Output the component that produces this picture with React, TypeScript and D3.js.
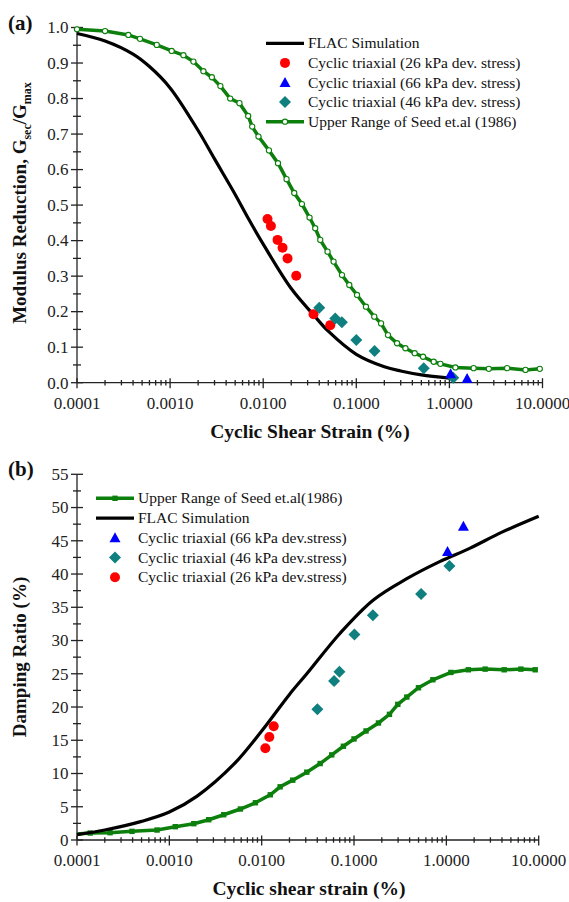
import React from "react";
import * as d3 from "d3";

const W = 569;
const H = 902;
const FONT = "Liberation Serif, Times New Roman, Times, serif";
const GREEN = "#0c7f0c";
const TEAL = "#0f7f7f";
const RED = "#ff0000";
const BLUE = "#0000ff";

// ---------- Panel (a): modulus reduction ----------
const flacAStrain = [1e-4, 2e-4, 4e-4, 6e-4, 1e-3, 2e-3, 3e-3, 5e-3, 7e-3, 0.01, 0.02, 0.035, 0.05, 0.1, 0.2, 0.3, 0.5, 1.0];
const flacAValue = [0.983, 0.962, 0.925, 0.89, 0.83, 0.71, 0.63, 0.53, 0.46, 0.39, 0.265, 0.19, 0.145, 0.08, 0.045, 0.033, 0.022, 0.013];

const seedAStrain = [1e-4, 2e-4, 3.56e-4, 4.75e-4, 7.19e-4, 1.04e-3, 1.39e-3, 1.78e-3, 2.28e-3, 2.81e-3, 3.47e-3, 4.42e-3, 5.56e-3, 6.9e-3, 7.62e-3, 8.9e-3, 0.01153, 0.01442, 0.01782, 0.02155, 0.02606, 0.03147, 0.0362, 0.041, 0.0491, 0.057, 0.0702, 0.0841, 0.1018, 0.127, 0.156, 0.1845, 0.219, 0.274, 0.337, 0.424, 0.521, 0.678, 0.8, 1.16, 1.82, 2.65, 4.17, 6.56, 9.35];
const seedAValue = [0.995, 0.99, 0.979, 0.968, 0.951, 0.934, 0.922, 0.904, 0.877, 0.86, 0.835, 0.8, 0.787, 0.751, 0.721, 0.693, 0.654, 0.618, 0.573, 0.534, 0.503, 0.465, 0.435, 0.402, 0.369, 0.341, 0.303, 0.275, 0.247, 0.214, 0.186, 0.167, 0.134, 0.111, 0.097, 0.083, 0.073, 0.059, 0.053, 0.043, 0.041, 0.039, 0.041, 0.036, 0.039];

const tri26AStrain = [0.01112, 0.0121, 0.01426, 0.01614, 0.01825, 0.02263, 0.0347, 0.0525];
const tri26AValue = [0.461, 0.441, 0.402, 0.38, 0.35, 0.301, 0.193, 0.162];
const tri66AStrain = [1.03, 1.55];
const tri66AValue = [0.025, 0.012];
const tri46AStrain = [0.04, 0.0594, 0.07, 0.1, 0.157, 0.53, 1.1];
const tri46AValue = [0.211, 0.181, 0.17, 0.12, 0.089, 0.041, 0.014];

// ---------- Panel (b): damping ratio ----------
const flacBStrain = [1e-4, 2e-4, 5e-4, 1e-3, 2e-3, 5e-3, 0.01, 0.02, 0.0308, 0.0707, 0.162, 0.373, 0.857, 1.81, 4.0, 10];
const flacBValue = [0.8, 1.5, 2.8, 4.2, 6.6, 11.4, 16.4, 21.9, 25.0, 31.1, 36.1, 39.3, 41.9, 43.9, 46.3, 48.7];

const seedBStrain = [1e-4, 1.39e-4, 2.28e-4, 3.94e-4, 7.36e-4, 1.16e-3, 1.84e-3, 2.67e-3, 3.88e-3, 5.88e-3, 8.55e-3, 0.0124, 0.01585, 0.0217, 0.0308, 0.043, 0.0574, 0.0767, 0.1, 0.135, 0.184, 0.242, 0.298, 0.373, 0.499, 0.714, 1.12, 1.73, 2.63, 4.23, 6.41, 9.17];
const seedBValue = [0.9, 1.05, 1.1, 1.3, 1.5, 2.0, 2.45, 3.05, 3.8, 4.66, 5.6, 6.8, 8.0, 9.0, 10.2, 11.5, 12.8, 14.1, 15.2, 16.4, 17.6, 18.9, 20.4, 21.5, 22.9, 24.1, 25.2, 25.6, 25.7, 25.6, 25.7, 25.6];

const tri66BStrain = [1.03, 1.53];
const tri66BValue = [43.4, 47.2];
const tri46BStrain = [0.0401, 0.0608, 0.0695, 0.101, 0.16, 0.533, 1.08];
const tri46BValue = [19.65, 23.9, 25.3, 30.9, 33.8, 37.0, 41.2];
const tri26BStrain = [0.01096, 0.0121, 0.0135];
const tri26BValue = [13.8, 15.5, 17.1];

// ---------- Axis ticks ----------
const xTickValues = [0.0001, 0.001, 0.01, 0.1, 1, 10];
const xTickLabels = ["0.0001", "0.0010", "0.0100", "0.1000", "1.0000", "10.0000"];
const yTickAValues = [0, 0.1, 0.2, 0.3, 0.4, 0.5, 0.6, 0.7, 0.8, 0.9, 1.0];
const yTickALabels = ["0.0", "0.1", "0.2", "0.3", "0.4", "0.5", "0.6", "0.7", "0.8", "0.9", "1.0"];
const yTickBValues = [0, 5, 10, 15, 20, 25, 30, 35, 40, 45, 50, 55];
const yTickBLabels = ["0", "5", "10", "15", "20", "25", "30", "35", "40", "45", "50", "55"];

const zip = (xs: number[], ys: number[]) => xs.map((x, i) => [x, ys[i]] as [number, number]);

const minorX: number[] = [];
for (let e = -4; e <= 0; e++) for (let k = 2; k <= 9; k++) minorX.push(k * Math.pow(10, e));

const txt = (size: number, bold = false) => ({
  fontFamily: FONT,
  fontSize: size + "px",
  fontWeight: bold ? 700 : 400,
});

function Marker({ kind, x, y }: { kind: string; x: number; y: number }) {
  if (kind === "circle") return <circle cx={x} cy={y} r={5} fill={RED} />;
  if (kind === "tri")
    return <path d={`M${x},${y - 5.5} L${x + 5.5},${y + 4.5} L${x - 5.5},${y + 4.5} Z`} fill={BLUE} />;
  if (kind === "diamond")
    return <path d={`M${x},${y - 6} L${x + 6},${y} L${x},${y + 6} L${x - 6},${y} Z`} fill={TEAL} />;
  if (kind === "opencirc")
    return <circle cx={x} cy={y} r={2.6} fill="#fff" stroke={GREEN} strokeWidth={1.1} />;
  if (kind === "square") return <rect x={x - 2.7} y={y - 2.7} width={5.4} height={5.4} fill={GREEN} />;
  return null;
}

function Axes({ x, y, xTicks, xLabels, yTicks, yLabels, yMinor, xLabelY }: any) {
  const [x0, x1] = x.range();
  const [y0, y1] = y.range();
  return (
    <g stroke="#222" strokeWidth={1.3} fill="none">
      <line x1={x0} y1={y0} x2={x1} y2={y0} />
      <line x1={x0} y1={y0} x2={x0} y2={y1} />
      {xTicks.map((v: number) => (
        <line key={"xM" + v} x1={x(v)} x2={x(v)} y1={y0 - 4.5} y2={y0 + 5.5} />
      ))}
      {minorX.map((v: number) => (
        <line key={"xm" + v} x1={x(v)} x2={x(v)} y1={y0 - 2.7} y2={y0 + 2.7} />
      ))}
      {yTicks.map((v: number) => (
        <line key={"yM" + v} x1={x0 - 6} x2={x0 + 6} y1={y(v)} y2={y(v)} />
      ))}
      {yMinor.map((v: number) => (
        <line key={"ym" + v} x1={x0 - 4} x2={x0 + 4} y1={y(v)} y2={y(v)} />
      ))}
      <g stroke="none" fill="#222">
        {xTicks.map((v: number, i: number) => (
          <text key={"xl" + v} x={x(v)} y={xLabelY} textAnchor="middle" style={txt(17)}>
            {xLabels[i]}
          </text>
        ))}
        {yTicks.map((v: number, i: number) => (
          <text key={"yl" + v} x={x0 - 8.5} y={y(v) + 5.8} textAnchor="end" style={txt(17)}>
            {yLabels[i]}
          </text>
        ))}
      </g>
    </g>
  );
}

export default function App() {
  const xA = d3.scaleLog().domain([1e-4, 10]).range([77, 542.5]);
  const yA = d3.scaleLinear().domain([0, 1]).range([382.7, 27.5]);
  const xB = d3.scaleLog().domain([1e-4, 10]).range([77, 538.7]);
  const yB = d3.scaleLinear().domain([0, 55]).range([840, 474.3]);

  const smoothA = d3
    .line<[number, number]>()
    .x((d) => xA(d[0]))
    .y((d) => yA(d[1]))
    .curve(d3.curveCatmullRom.alpha(0.5));
  const polyA = d3
    .line<[number, number]>()
    .x((d) => xA(d[0]))
    .y((d) => yA(d[1]));
  const smoothB = d3
    .line<[number, number]>()
    .x((d) => xB(d[0]))
    .y((d) => yB(d[1]))
    .curve(d3.curveCatmullRom.alpha(0.5));
  const polyB = d3
    .line<[number, number]>()
    .x((d) => xB(d[0]))
    .y((d) => yB(d[1]));

  const yMinorA = d3.range(0.05, 1, 0.1);
  const yMinorB = d3.range(2.5, 55, 5);

  const legA = [
    { label: "FLAC Simulation", kind: "line" },
    { label: "Cyclic triaxial (26 kPa dev. stress)", kind: "circle" },
    { label: "Cyclic triaxial (66 kPa dev. stress)", kind: "tri" },
    { label: "Cyclic triaxial (46 kPa dev. stress)", kind: "diamond" },
    { label: "Upper Range of Seed et.al (1986)", kind: "seedA" },
  ];
  const legB = [
    { label: "Upper Range of Seed et.al(1986)", kind: "seedB" },
    { label: "FLAC Simulation", kind: "line" },
    { label: "Cyclic triaxial (66 kPa dev.stress)", kind: "tri" },
    { label: "Cyclic triaxial (46 kPa dev.stress)", kind: "diamond" },
    { label: "Cyclic triaxial (26 kPa dev.stress)", kind: "circle" },
  ];

  const legendRows = (items: any[], lx0: number, lx1: number, tx: number, ty0: number, dy: number) =>
    items.map((it, i) => {
      const cy = ty0 + i * dy;
      const cx = (lx0 + lx1) / 2;
      let sym = null;
      if (it.kind === "line") sym = <line x1={lx0} x2={lx1} y1={cy} y2={cy} stroke="#000" strokeWidth={3.2} />;
      else if (it.kind === "seedA")
        sym = (
          <g>
            <line x1={lx0} x2={lx1} y1={cy} y2={cy} stroke={GREEN} strokeWidth={3.5} />
            <Marker kind="opencirc" x={cx} y={cy} />
          </g>
        );
      else if (it.kind === "seedB")
        sym = (
          <g>
            <line x1={lx0} x2={lx1} y1={cy} y2={cy} stroke={GREEN} strokeWidth={3.5} />
            <Marker kind="square" x={cx} y={cy} />
          </g>
        );
      else sym = <Marker kind={it.kind} x={cx} y={cy} />;
      return (
        <g key={it.label}>
          {sym}
          <text x={tx} y={cy + 5} fill="#111" style={txt(15.5)}>
            {it.label}
          </text>
        </g>
      );
    });

  return (
    <svg width={W} height={H} style={{ position: "absolute", left: 0, top: 0, background: "#fff" }}>
      <rect width={W} height={H} fill="#fff" />

      {/* ===== Panel (a) ===== */}
      <Axes
        x={xA}
        y={yA}
        xTicks={xTickValues}
        xLabels={xTickLabels}
        yTicks={yTickAValues}
        yLabels={yTickALabels}
        yMinor={yMinorA}
        xLabelY={409}
      />
      <path d={polyA(zip(seedAStrain, seedAValue)) || ""} fill="none" stroke={GREEN} strokeWidth={3.5} />
      {seedAStrain.map((s, i) => (
        <Marker key={"sa" + i} kind="opencirc" x={xA(s)} y={yA(seedAValue[i])} />
      ))}
      <path d={smoothA(zip(flacAStrain, flacAValue)) || ""} fill="none" stroke="#000" strokeWidth={3.2} />
      {tri26AStrain.map((s, i) => (
        <Marker key={"ra" + i} kind="circle" x={xA(s)} y={yA(tri26AValue[i])} />
      ))}
      {tri46AStrain.map((s, i) => (
        <Marker key={"da" + i} kind="diamond" x={xA(s)} y={yA(tri46AValue[i])} />
      ))}
      {tri66AStrain.map((s, i) => (
        <Marker key={"ta" + i} kind="tri" x={xA(s)} y={yA(tri66AValue[i])} />
      ))}
      {legendRows(legA, 266, 304, 308, 43.3, 19.6)}
      <text x={310} y={438} textAnchor="middle" fill="#111" style={txt(19.5, true)}>
        Cyclic Shear Strain (%)
      </text>
      <text transform="translate(26,203) rotate(-90)" textAnchor="middle" fill="#111" style={txt(19, true)}>
        Modulus Reduction, G
        <tspan dy={5} style={{ fontSize: "12px" }}>
          sec
        </tspan>
        <tspan dy={-5}>/G</tspan>
        <tspan dy={5} style={{ fontSize: "12px" }}>
          max
        </tspan>
      </text>
      <text x={8} y={30} fill="#111" style={txt(21, true)}>
        (a)
      </text>

      {/* ===== Panel (b) ===== */}
      <Axes
        x={xB}
        y={yB}
        xTicks={xTickValues}
        xLabels={xTickLabels}
        yTicks={yTickBValues}
        yLabels={yTickBLabels}
        yMinor={yMinorB}
        xLabelY={866}
      />
      <path d={polyB(zip(seedBStrain, seedBValue)) || ""} fill="none" stroke={GREEN} strokeWidth={3.5} />
      {seedBStrain.map((s, i) =>
        i === 0 ? null : <Marker key={"sb" + i} kind="square" x={xB(s)} y={yB(seedBValue[i])} />
      )}
      <path d={smoothB(zip(flacBStrain, flacBValue)) || ""} fill="none" stroke="#000" strokeWidth={3.2} />
      {tri26BStrain.map((s, i) => (
        <Marker key={"rb" + i} kind="circle" x={xB(s)} y={yB(tri26BValue[i])} />
      ))}
      {tri46BStrain.map((s, i) => (
        <Marker key={"db" + i} kind="diamond" x={xB(s)} y={yB(tri46BValue[i])} />
      ))}
      {tri66BStrain.map((s, i) => (
        <Marker key={"tb" + i} kind="tri" x={xB(s)} y={yB(tri66BValue[i])} />
      ))}
      {legendRows(legB, 96, 134, 138, 498.3, 19.75)}
      <text x={309} y={895} textAnchor="middle" fill="#111" style={txt(19.5, true)}>
        Cyclic shear strain (%)
      </text>
      <text transform="translate(26,657) rotate(-90)" textAnchor="middle" fill="#111" style={txt(19, true)}>
        Damping Ratio (%)
      </text>
      <text x={8} y={476} fill="#111" style={txt(21, true)}>
        (b)
      </text>
    </svg>
  );
}
